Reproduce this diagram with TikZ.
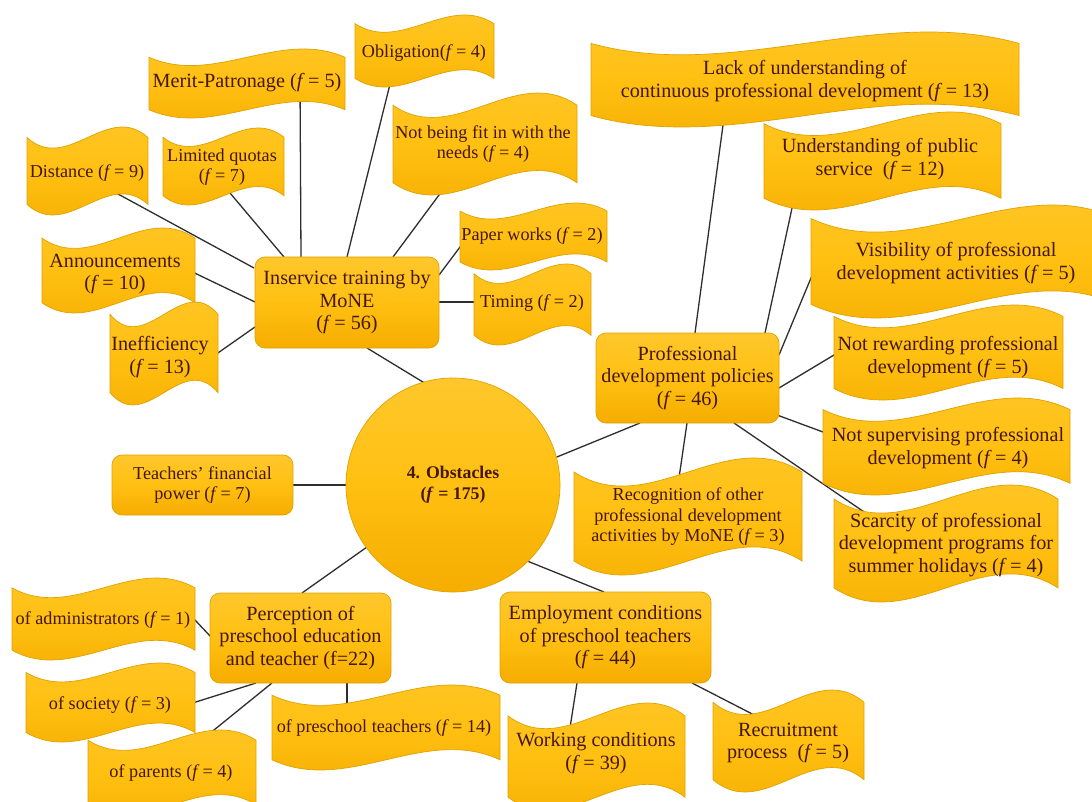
\documentclass[tikz,border=0pt]{standalone}
\usepackage{fontspec}
\setmainfont{Liberation Serif}
\usetikzlibrary{calc}
\pgfdeclarelayer{links}
\pgfsetlayers{links,main}

\definecolor{filltop}{HTML}{FFC72C}
\definecolor{fillmid}{HTML}{FFC012}
\definecolor{fillbot}{HTML}{F5AD00}
\definecolor{rim}{HTML}{E0A200}
\definecolor{ink}{HTML}{45170A}
\definecolor{wire}{HTML}{2E2E2E}
\newcommand\fv{\textit{f}}

\tikzset{
  gold/.style={top color=filltop, bottom color=fillbot, middle color=fillmid, draw=rim, line width=0.7pt},
  lbl/.style={text=ink, font=\fontsize{20.2}{22.5}\selectfont, align=center, inner sep=0pt},
  small/.style={font=\fontsize{18.2}{20.5}\selectfont},
  topic/.style={gold, lbl, rectangle, rounded corners=10pt},
  hub/.style={gold, lbl, circle, minimum size=214pt},
  link/.style={draw=wire, line width=1.3pt},
}

% wavy banner: [label options], name, left, top, right, bottom, text x, text y, text
\newcommand\banner[9][]{%
  \pgfmathsetmacro\wA{0.12*(#6-#4)}%
  \pgfmathsetmacro\wC{3.46*\wA}%
  \pgfmathsetmacro\wT{#4+\wA}%
  \pgfmathsetmacro\wB{#6-\wA}%
  \pgfmathsetmacro\wP{#3+(#5-#3)/3}%
  \pgfmathsetmacro\wQ{#3+2*(#5-#3)/3}%
  \path[gold] (#3,\wT) .. controls (\wP,\wT+\wC) and (\wQ,\wT-\wC) .. (#5,\wT)
     -- (#5,\wB) .. controls (\wQ,\wB-\wC) and (\wP,\wB+\wC) .. (#3,\wB) -- cycle;
  \node[lbl,#1] (#2) at (#7,#8) {#9};
}

\begin{document}
\begin{tikzpicture}[x=1pt, y=-1pt]
\useasboundingbox (0,0) rectangle (1092,802);
\begin{pgfonlayer}{links}
\fill[white] (0,0) rectangle (1092,802);
\end{pgfonlayer}

% central theme
\node[hub, font=\fontsize{17.8}{21}\selectfont] (hub) at (453,485) {\textbf{4. Obstacles}\\\textbf{(\textit{f} = 175)}};

% main categories
\node[topic, minimum width=184pt, minimum height=91pt] (inserv) at (347,302.5) {Inservice training by\\MoNE\\(\fv\,= 56)};
\node[topic, minimum width=183pt, minimum height=90pt] (profdev) at (687.5,378) {Professional\\development policies\\(\fv\,= 46)};
\node[topic, small, minimum width=181pt, minimum height=60pt] (finance) at (202.5,485) {Teachers’ financial\\power (\fv\,= 7)};
\node[topic, minimum width=181pt, minimum height=90pt] (percep) at (300.5,638) {Perception of\\preschool education\\and teacher (f=22)};
\node[topic, minimum width=211pt, minimum height=91pt] (employ) at (605.5,637.5) {Employment conditions\\of preschool teachers\\(\fv\,= 44)};

% in-service training sub-themes
\banner{merit}{149}{49}{345}{118}{247}{83}{Merit-Patronage (\fv\,= 5)}
\banner[small]{oblig}{355}{15}{494}{87}{424}{53}{Obligation(\fv\,= 4)}
\banner[small]{notfit}{393}{93}{577}{195}{483}{144}{Not being fit in with the\\needs (\fv\,= 4)}
\banner[small]{quotas}{163}{128}{284}{205}{222}{167}{Limited quotas\\(\fv\,= 7)}
\banner[small]{distance}{27}{127}{148}{215}{87}{173}{Distance (\fv\,= 9)}
\banner{announce}{42}{228}{195}{313}{115}{274}{Announcements\\(\fv\,= 10)}
\banner{ineff}{110}{302}{218}{405}{160}{357}{Inefficiency\\(\fv\,= 13)}
\banner[small]{paper}{460}{203}{607}{270}{532}{236}{Paper works (\fv\,= 2)}
\banner[small]{timing}{474}{264}{591}{345}{532}{303}{Timing (\fv\,= 2)}

% professional development policy sub-themes
\banner{lack}{591}{32}{1019}{127}{805}{81}{Lack of understanding of\\continuous professional development (\fv\,= 13)}
\banner{public}{764}{112}{1001}{210}{880}{159}{Understanding of public\\service\ \ (\fv\,= 12)}
\banner{visib}{811}{205}{1117}{318}{956}{263}{Visibility of professional\\development activities (\fv\,= 5)}
\banner{reward}{834}{305}{1063}{400}{948}{357}{Not rewarding professional\\development (\fv\,= 5)}
\banner{superv}{823}{398}{1070}{495}{948}{448}{Not supervising professional\\development (\fv\,= 4)}
\banner{scarc}{834}{485}{1058}{602}{946}{545}{Scarcity of professional\\development programs for\\summer holidays (\fv\,= 4)}
\banner[small]{recog}{574}{458}{802}{575}{688}{517}{Recognition of other\\professional development\\activities by MoNE (\fv\,= 3)}

% perception sub-themes
\banner[small]{admin}{12}{578}{195}{660}{103}{620}{of administrators (\fv\,= 1)}
\banner[small]{society}{26}{663}{195}{742}{110}{705}{of society (\fv\,= 3)}
\banner[small]{parents}{88}{730}{256}{815}{171}{773}{of parents (\fv\,= 4)}
\banner[small]{ptchr}{272}{685}{500}{770}{384}{728}{of preschool teachers (\fv\,= 14)}

% employment sub-themes
\banner{working}{508}{703}{685}{810}{596}{753}{Working conditions\\(\fv\,= 39)}
\banner{recruit}{713}{690}{864}{792}{788}{743}{Recruitment\\process\ \ (\fv\,= 5)}

% connectors, kept behind the shapes
\begin{pgfonlayer}{links}
\draw[link] ([shift={(20,-72.5)}]hub.center) -- ([shift={(20,45.5)}]inserv.center);
\draw[link] ([shift={(77,-17)}]hub.center) -- ([shift={(-47.5,45)}]profdev.center);
\draw[link] ([shift={(-80,0)}]hub.center) -- ([shift={(90.5,0)}]finance.center);
\draw[link] ([shift={(-63,45.7)}]hub.center) -- ([shift={(1.5,-45)}]percep.center);
\draw[link] ([shift={(47,65)}]hub.center) -- ([shift={(-1.5,-45.5)}]employ.center);

\draw[link] ([shift={(-93,-34.5)}]inserv.center) -- ([shift={(20,15)}]distance.center);
\draw[link] ([shift={(-63,-45.5)}]inserv.center) -- ([shift={(8,26)}]quotas.center);
\draw[link] ([shift={(-46,-45.5)}]inserv.center) -- ([shift={(53,0)}]merit.center);
\draw[link] ([shift={(0,-45.5)}]inserv.center) -- ([shift={(-28,7)}]oblig.center);
\draw[link] ([shift={(46,-45.5)}]inserv.center) -- ([shift={(-18,16)}]notfit.center);
\draw[link] ([shift={(92,-27.5)}]inserv.center) -- ([shift={(-61.5,-3)}]paper.center);
\draw[link] ([shift={(92,-0.5)}]inserv.center) -- ([shift={(-42,-1)}]timing.center);
\draw[link] ([shift={(-92,-0.5)}]inserv.center) -- ([shift={(65,-8)}]announce.center);
\draw[link] ([shift={(-92,24.5)}]inserv.center) -- ([shift={(45,5)}]ineff.center);

\draw[link] ([shift={(7.5,-45)}]profdev.center) -- ([shift={(-78.6,19)}]lack.center);
\draw[link] ([shift={(77.5,-45)}]profdev.center) -- ([shift={(-83,26)}]public.center);
\draw[link] ([shift={(91.5,-23)}]profdev.center) -- ([shift={(-133.4,-13)}]visib.center);
\draw[link] ([shift={(91.5,10)}]profdev.center) -- ([shift={(-98,-11.6)}]reward.center);
\draw[link] ([shift={(89.5,37)}]profdev.center) -- ([shift={(-108,-9.7)}]superv.center);
\draw[link] ([shift={(46.5,45)}]profdev.center) -- ([shift={(-76,-29)}]scarc.center);
\draw[link] ([shift={(-0.5,45)}]profdev.center) -- ([shift={(-11.5,-22)}]recog.center);

\draw[link] ([shift={(-89.5,-1)}]percep.center) -- ([shift={(82,-10.6)}]admin.center);
\draw[link] ([shift={(-44.5,45)}]percep.center) -- ([shift={(70,2)}]society.center);
\draw[link] ([shift={(-28.5,45)}]percep.center) -- ([shift={(29,-31.7)}]parents.center);
\draw[link] ([shift={(46.5,45)}]percep.center) -- ([shift={(-37,-8)}]ptchr.center);

\draw[link] ([shift={(-28.5,45.5)}]employ.center) -- ([shift={(-28.7,-8)}]working.center);
\draw[link] ([shift={(86.5,45.5)}]employ.center) -- ([shift={(-13,-17.3)}]recruit.center);
\end{pgfonlayer}
\end{tikzpicture}
\end{document}
